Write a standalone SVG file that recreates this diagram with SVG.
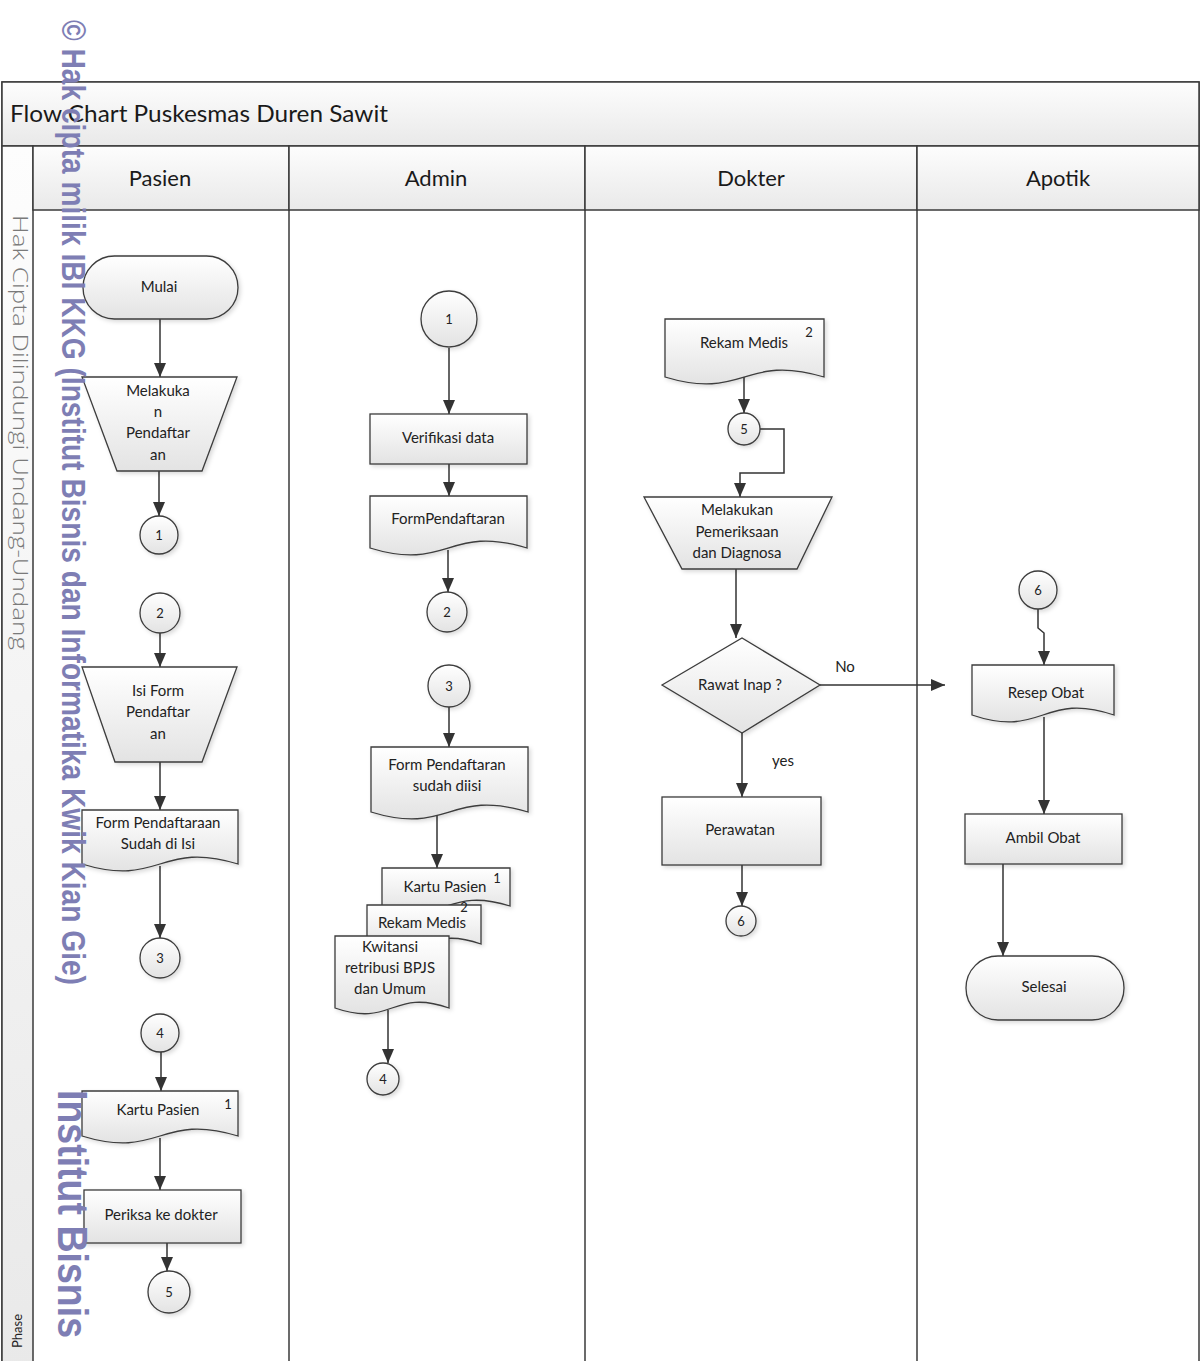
<svg xmlns="http://www.w3.org/2000/svg" width="1204" height="1361" viewBox="0 0 1204 1361">
<style>
.lane{fill:none;stroke:#3a3a3a;stroke-width:1.5}
.hdr{stroke:#3a3a3a;stroke-width:1.5}
.sh{stroke:#3c3c3c;stroke-width:1.3;fill:url(#g)}
.t{font-family:Lato,"Liberation Sans",sans-serif;font-size:15px;fill:#222;text-anchor:middle}
.n{font-family:Lato,"Liberation Sans",sans-serif;font-size:13px;fill:#222;text-anchor:middle}
.ht{font-family:Lato,"Liberation Sans",sans-serif;font-size:22px;fill:#1a1a1a;text-anchor:middle}
.c{fill:none;stroke:#333;stroke-width:1.5;marker-end:url(#ah)}
.wm{font-family:"Liberation Sans",Arial,sans-serif;font-weight:bold;fill:#7e7eb4}
</style>
<defs>
<linearGradient id="g" x1="0" y1="0" x2="0" y2="1"><stop offset="0" stop-color="#ffffff"/><stop offset="1" stop-color="#e3e3e3"/></linearGradient>
<linearGradient id="hg" x1="0" y1="0" x2="0" y2="1"><stop offset="0" stop-color="#fdfdfd"/><stop offset="1" stop-color="#e9e9e9"/></linearGradient>
<filter id="ds" x="-10%" y="-10%" width="130%" height="140%"><feDropShadow dx="2" dy="2" stdDeviation="2" flood-color="#000" flood-opacity="0.15"/></filter>
<marker id="ah" viewBox="0 0 14 12" refX="14" refY="6" markerWidth="14" markerHeight="12" markerUnits="userSpaceOnUse" orient="auto"><path d="M0,0 L14,6 L0,12 z" fill="#333"/></marker>
</defs>
<rect width="1204" height="1361" fill="#fff"/>

<g id="swimlanes">
<rect x="2" y="82" width="1197" height="1290" fill="#fff" class="lane"/>
<rect x="2" y="82" width="1197" height="64" fill="url(#hg)" class="hdr"/>
<rect x="2" y="146" width="31" height="1226" fill="url(#hg)" class="hdr"/>
<rect x="33" y="146" width="256" height="64" fill="url(#hg)" class="hdr"/>
<rect x="289" y="146" width="296" height="64" fill="url(#hg)" class="hdr"/>
<rect x="585" y="146" width="332" height="64" fill="url(#hg)" class="hdr"/>
<rect x="917" y="146" width="282" height="64" fill="url(#hg)" class="hdr"/>
<line x1="289" y1="210" x2="289" y2="1361" class="lane"/>
<line x1="585" y1="210" x2="585" y2="1361" class="lane"/>
<line x1="917" y1="210" x2="917" y2="1361" class="lane"/>
<text x="10" y="122" font-family="Lato,'Liberation Sans',sans-serif" font-size="24" fill="#1a1a1a" textLength="378" lengthAdjust="spacingAndGlyphs">Flow Chart Puskesmas Duren Sawit</text>
<text x="160" y="186" class="ht">Pasien</text>
<text x="436" y="186" class="ht">Admin</text>
<text x="751" y="186" class="ht">Dokter</text>
<text x="1058" y="186" class="ht">Apotik</text>
<text transform="translate(22,1331) rotate(-90)" font-family="Lato,'Liberation Sans',sans-serif" font-size="13" fill="#222" text-anchor="middle">Phase</text>
</g>

<g id="connectors">
<path d="M160,319 V377" class="c"/>
<path d="M159,471 V516" class="c"/>
<path d="M160,633 V667" class="c"/>
<path d="M160,762 V810" class="c"/>
<path d="M160,866 V938" class="c"/>
<path d="M161,1052 V1091" class="c"/>
<path d="M160,1138 V1190" class="c"/>
<path d="M167,1243 V1271" class="c"/>
<path d="M449,348 V414" class="c"/>
<path d="M449,464 V496" class="c"/>
<path d="M448,550 V592" class="c"/>
<path d="M449,707 V747" class="c"/>
<path d="M437,813 V868" class="c"/>
<path d="M388,1010 V1063" class="c"/>
<path d="M744,377 V413" class="c"/>
<path d="M760,429 H784 V473 H740 V497" class="c"/>
<path d="M736,569 V638" class="c"/>
<path d="M742,733 V797" class="c"/>
<path d="M742,865 V906" class="c"/>
<path d="M820,685 H945" class="c"/>
<path d="M1038,609 V628 L1044,633 V665" class="c"/>
<path d="M1044,717 V814" class="c"/>
<path d="M1003,864 V956" class="c"/>
<text x="845" y="672" class="t">No</text>
<text x="783" y="766" class="t">yes</text>
</g>

<g id="p_mulai"><rect x="83" y="256" width="155" height="63" rx="31.5" class="sh" filter="url(#ds)"/><text x="159" y="292" class="t">Mulai</text></g>
<g id="p_daftar"><polygon points="82,377 237,377 202,471 117,471" class="sh" filter="url(#ds)"/><text x="158" y="396" class="t">Melakuka</text><text x="158" y="417" class="t">n</text><text x="158" y="438" class="t">Pendaftar</text><text x="158" y="460" class="t">an</text></g>
<g id="p_c1"><circle cx="159" cy="535" r="19" class="sh" filter="url(#ds)"/><text x="159" y="540" class="n">1</text></g>
<g id="p_c2"><circle cx="160" cy="613" r="20" class="sh" filter="url(#ds)"/><text x="160" y="618" class="n">2</text></g>
<g id="p_isi"><polygon points="82,667 237,667 202,762 115,762" class="sh" filter="url(#ds)"/><text x="158" y="696" class="t">Isi Form</text><text x="158" y="717" class="t">Pendaftar</text><text x="158" y="739" class="t">an</text></g>
<g id="p_form"><path d="M82,810 H238 V864 C160,840 160,888 82,864 Z" class="sh" filter="url(#ds)"/><text x="158" y="828" class="t">Form Pendaftaraan</text><text x="158" y="849" class="t">Sudah di Isi</text></g>
<g id="p_c3"><circle cx="160" cy="958" r="20" class="sh" filter="url(#ds)"/><text x="160" y="963" class="n">3</text></g>
<g id="p_c4"><circle cx="160" cy="1033" r="19" class="sh" filter="url(#ds)"/><text x="160" y="1038" class="n">4</text></g>
<g id="p_kartu"><path d="M82,1091 H238 V1136 C160,1112 160,1160 82,1136 Z" class="sh" filter="url(#ds)"/><text x="158" y="1115" class="t">Kartu Pasien</text><text x="228" y="1109" class="n">1</text></g>
<g id="p_periksa"><rect x="84" y="1190" width="157" height="53" class="sh" filter="url(#ds)"/><text x="161" y="1220" class="t">Periksa ke dokter</text></g>
<g id="p_c5"><circle cx="169" cy="1292" r="21" class="sh" filter="url(#ds)"/><text x="169" y="1297" class="n">5</text></g>

<g id="a_c1"><circle cx="449" cy="319" r="28" class="sh" filter="url(#ds)"/><text x="449" y="324" class="n">1</text></g>
<g id="a_verif"><rect x="370" y="414" width="157" height="50" class="sh" filter="url(#ds)"/><text x="448" y="443" class="t">Verifikasi data</text></g>
<g id="a_form"><path d="M370,496 H527 V548 C448,524 448,572 370,548 Z" class="sh" filter="url(#ds)"/><text x="448" y="524" class="t">FormPendaftaran</text></g>
<g id="a_c2"><circle cx="447" cy="612" r="20" class="sh" filter="url(#ds)"/><text x="447" y="617" class="n">2</text></g>
<g id="a_c3"><circle cx="449" cy="686" r="21" class="sh" filter="url(#ds)"/><text x="449" y="691" class="n">3</text></g>
<g id="a_sudah"><path d="M371,747 H528 V812 C449,788 449,836 371,812 Z" class="sh" filter="url(#ds)"/><text x="447" y="770" class="t">Form Pendaftaran</text><text x="447" y="791" class="t">sudah diisi</text></g>
<g id="a_kartu"><path d="M382,868 H510 V906 C446,886 446,926 382,906 Z" class="sh" filter="url(#ds)"/><text x="445" y="892" class="t">Kartu Pasien</text><text x="497" y="883" class="n">1</text></g>
<g id="a_rekam"><path d="M367,905 H481 V944 C424,924 424,964 367,944 Z" class="sh" filter="url(#ds)"/><text x="422" y="928" class="t">Rekam Medis</text><text x="464" y="912" class="n">2</text></g>
<g id="a_kwit"><path d="M335,936 H449 V1008 C392,988 392,1028 335,1008 Z" class="sh" filter="url(#ds)"/><text x="390" y="952" class="t">Kwitansi</text><text x="390" y="973" class="t">retribusi BPJS</text><text x="390" y="994" class="t">dan Umum</text></g>
<g id="a_c4"><circle cx="383" cy="1079" r="16" class="sh" filter="url(#ds)"/><text x="383" y="1084" class="n">4</text></g>

<g id="d_rekam"><path d="M665,319 H824 V377 C744,353 744,401 665,377 Z" class="sh" filter="url(#ds)"/><text x="744" y="348" class="t">Rekam Medis</text><text x="809" y="337" class="n">2</text></g>
<g id="d_c5"><circle cx="744" cy="429" r="16" class="sh" filter="url(#ds)"/><text x="744" y="434" class="n">5</text></g>
<g id="d_periksa"><polygon points="644,497 832,497 797,569 682,569" class="sh" filter="url(#ds)"/><text x="737" y="515" class="t">Melakukan</text><text x="737" y="537" class="t">Pemeriksaan</text><text x="737" y="558" class="t">dan Diagnosa</text></g>
<g id="d_rawat"><polygon points="662,685 742,638 820,685 742,733" class="sh" filter="url(#ds)"/><text x="740" y="690" class="t">Rawat Inap ?</text></g>
<g id="d_perawatan"><rect x="662" y="797" width="159" height="68" class="sh" filter="url(#ds)"/><text x="740" y="835" class="t">Perawatan</text></g>
<g id="d_c6"><circle cx="741" cy="921" r="15" class="sh" filter="url(#ds)"/><text x="741" y="926" class="n">6</text></g>

<g id="ap_c6"><circle cx="1038" cy="590" r="19" class="sh" filter="url(#ds)"/><text x="1038" y="595" class="n">6</text></g>
<g id="ap_resep"><path d="M972,665 H1114 V715 C1043,691 1043,739 972,715 Z" class="sh" filter="url(#ds)"/><text x="1046" y="698" class="t">Resep Obat</text></g>
<g id="ap_ambil"><rect x="965" y="814" width="157" height="50" class="sh" filter="url(#ds)"/><text x="1043" y="843" class="t">Ambil Obat</text></g>
<g id="ap_selesai"><rect x="966" y="956" width="158" height="64" rx="32" class="sh" filter="url(#ds)"/><text x="1044" y="992" class="t">Selesai</text></g>

<g id="watermark">
<text transform="translate(13,215) rotate(90)" font-family="'Open Sans','DejaVu Sans',sans-serif" font-weight="300" font-size="20" fill="#7a7a7a" textLength="435" lengthAdjust="spacingAndGlyphs">Hak Cipta Dilindungi Undang-Undang</text>
<text transform="translate(62,20) rotate(90)" class="wm" font-size="34" textLength="965" lengthAdjust="spacingAndGlyphs">© Hak cipta milik IBI KKG (Institut Bisnis dan Informatika Kwik Kian Gie)</text>
<text transform="translate(58,1090) rotate(90)" class="wm" font-size="42" textLength="248" lengthAdjust="spacingAndGlyphs">Institut Bisnis</text>
</g>
</svg>
